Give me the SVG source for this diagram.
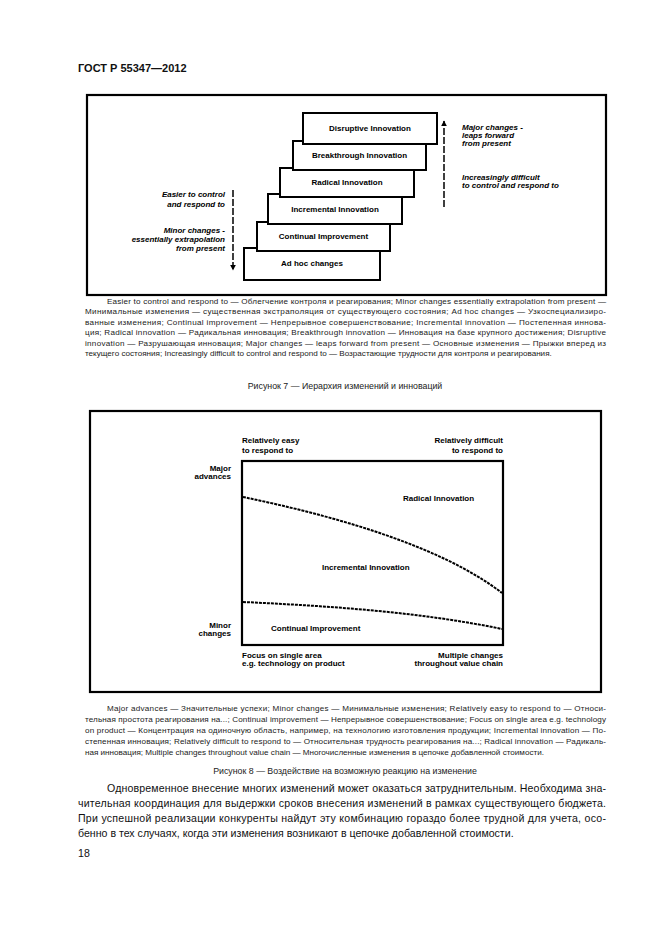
<svg xmlns="http://www.w3.org/2000/svg" width="661" height="935" viewBox="0 0 661 935">
<style>
text{font-family:"Liberation Sans",Arial,sans-serif;}
.hdr{font-size:11px;font-weight:bold;fill:#111;}
.frame{fill:none;stroke:#000;stroke-width:2.2;}
.step{fill:#fff;stroke:#000;stroke-width:2;}
.st{font-size:8px;font-weight:bold;text-anchor:middle;fill:#000;}
.lab{font-size:8px;font-weight:bold;font-style:italic;fill:#000;}
.l8{font-size:8px;font-weight:bold;fill:#000;}
.cap{font-size:8.1px;fill:#222;}
.ttl{font-size:8.8px;fill:#222;text-anchor:middle;}
.body{font-size:10.6px;fill:#111;}
.arr{stroke:#000;stroke-width:1.5;fill:none;stroke-dasharray:7 2;}
.curve{stroke:#000;stroke-width:2;fill:none;stroke-dasharray:3 1;}
</style>
<defs>
<marker id="ah" viewBox="0 0 10 10" refX="9" refY="5" markerWidth="4" markerHeight="5" orient="auto" markerUnits="strokeWidth">
<path d="M0,0 L10,5 L0,10 z" fill="#000"/>
</marker>
</defs>
<rect width="661" height="935" fill="#fff"/>
<text class="hdr" x="78" y="71.5">ГОСТ Р 55347—2012</text>

<!-- Figure 7 -->
<rect id="fig7-frame" class="frame" x="87" y="95" width="519" height="200"/>
<g id="connectors">
<line id="arrow-down" class="arr" x1="233" y1="190" x2="233" y2="270" marker-end="url(#ah)"/>
<line id="arrow-up" class="arr" x1="444" y1="207" x2="444" y2="121" marker-end="url(#ah)"/>
</g>
<g id="step-adhoc"><rect class="step" x="244" y="248" width="136" height="32"/><text class="st" x="312" y="266">Ad hoc changes</text></g>
<g id="step-continual"><rect class="step" x="257" y="222" width="133" height="29"/><text class="st" x="323.5" y="239">Continual Improvement</text></g>
<g id="step-incremental"><rect class="step" x="268" y="194" width="134" height="30"/><text class="st" x="335" y="212">Incremental Innovation</text></g>
<g id="step-radical"><rect class="step" x="280" y="168" width="134" height="29"/><text class="st" x="347" y="185">Radical Innovation</text></g>
<g id="step-breakthrough"><rect class="step" x="293" y="141" width="133" height="29"/><text class="st" x="359.5" y="158">Breakthrough Innovation</text></g>
<g id="step-disruptive"><rect class="step" x="303" y="113" width="134" height="31"/><text class="st" x="370" y="131">Disruptive Innovation</text></g>
<g id="label-easier" class="lab" text-anchor="end">
<text x="225" y="197">Easier to control</text>
<text x="225" y="207">and respond to</text>
</g>
<g id="label-minor" class="lab" text-anchor="end">
<text x="225" y="233">Minor changes -</text>
<text x="225" y="242">essentially extrapolation</text>
<text x="225" y="251">from present</text>
</g>
<g id="label-major" class="lab">
<text x="462" y="130">Major changes -</text>
<text x="462" y="138">leaps forward</text>
<text x="462" y="146">from present</text>
</g>
<g id="label-difficult" class="lab">
<text x="462" y="180">Increasingly difficult</text>
<text x="462" y="188">to control and respond to</text>
</g>

<g id="caption7" class="cap">
<text x="107" y="303.5" textLength="499" lengthAdjust="spacing">Easier to control and respond to — Облегчение контроля и реагирования; Minor changes essentially extrapolation from present —</text>
<text x="85" y="314" textLength="521" lengthAdjust="spacing">Минимальные изменения — существенная экстраполяция от существующего состояния; Ad hoc changes — Узкоспециализиро-</text>
<text x="85" y="324.5" textLength="521" lengthAdjust="spacing">ванные изменения; Continual improvement — Непрерывное совершенствование; Incremental innovation — Постепенная иннова-</text>
<text x="85" y="335" textLength="521" lengthAdjust="spacing">ция; Radical innovation — Радикальная инновация; Breakthrough innovation — Инновация на базе крупного достижения; Disruptive</text>
<text x="85" y="345.5" textLength="521" lengthAdjust="spacing">innovation — Разрушающая инновация; Major changes — leaps forward from present — Основные изменения — Прыжки вперед из</text>
<text x="85" y="356">текущего состояния; Increasingly difficult to control and respond to — Возрастающие трудности для контроля и реагирования.</text>
</g>
<text class="ttl" x="345" y="389">Рисунок 7 — Иерархия изменений и инноваций</text>

<!-- Figure 8 -->
<rect id="fig8-frame" class="frame" x="90" y="411" width="511" height="281"/>
<rect id="chart" class="frame" x="242" y="461" width="261" height="184"/>
<g id="curves">
<path id="curve-upper" class="curve" d="M243,497 C330,515 440,545 502,593"/>
<path id="curve-lower" class="curve" d="M243,602 C330,606 420,612 502,629"/>
</g>
<g id="f8-easy" class="l8"><text x="242" y="443">Relatively easy</text><text x="242" y="453">to respond to</text></g>
<g id="f8-difficult" class="l8" text-anchor="end"><text x="503" y="443">Relatively difficult</text><text x="503" y="453">to respond to</text></g>
<g id="f8-major" class="l8" text-anchor="end"><text x="231" y="471">Major</text><text x="231" y="479">advances</text></g>
<g id="f8-minor" class="l8" text-anchor="end"><text x="231" y="628">Minor</text><text x="231" y="636">changes</text></g>
<text id="f8-radical" class="l8" x="403" y="501">Radical Innovation</text>
<text id="f8-incremental" class="l8" x="322" y="570">Incremental Innovation</text>
<text id="f8-continual" class="l8" x="271" y="631">Continual Improvement</text>
<g id="f8-focus" class="l8"><text x="242" y="658">Focus on single area</text><text x="242" y="666">e.g. technology on product</text></g>
<g id="f8-multiple" class="l8" text-anchor="end"><text x="503" y="658">Multiple changes</text><text x="503" y="666">throughout value chain</text></g>

<g id="caption8" class="cap">
<text x="107" y="711" textLength="499" lengthAdjust="spacing">Major advances — Значительные успехи; Minor changes — Минимальные изменения; Relatively easy to respond to — Относи-</text>
<text x="85" y="722" textLength="521" lengthAdjust="spacing">тельная простота реагирования на...; Continual improvement — Непрерывное совершенствование; Focus on single area e.g. technology</text>
<text x="85" y="733" textLength="521" lengthAdjust="spacing">on product — Концентрация на одиночную область, например, на технологию изготовления продукции; Incremental innovation — По-</text>
<text x="85" y="744" textLength="521" lengthAdjust="spacing">степенная инновация; Relatively difficult to respond to — Относительная трудность реагирования на...; Radical innovation — Радикаль-</text>
<text x="85" y="755">ная инновация; Multiple changes throughout value chain — Многочисленные изменения в цепочке добавленной стоимости.</text>
</g>
<text class="ttl" x="345" y="774">Рисунок 8 — Воздействие на возможную реакцию на изменение</text>

<g id="body" class="body">
<text x="107" y="792" textLength="499" lengthAdjust="spacing">Одновременное внесение многих изменений может оказаться затруднительным. Необходима зна-</text>
<text x="78" y="807" textLength="528" lengthAdjust="spacing">чительная координация для выдержки сроков внесения изменений в рамках существующего бюджета.</text>
<text x="78" y="822" textLength="528" lengthAdjust="spacing">При успешной реализации конкуренты найдут эту комбинацию гораздо более трудной для учета, осо-</text>
<text x="78" y="837">бенно в тех случаях, когда эти изменения возникают в цепочке добавленной стоимости.</text>
</g>
<text class="body" x="78" y="857">18</text>
</svg>
